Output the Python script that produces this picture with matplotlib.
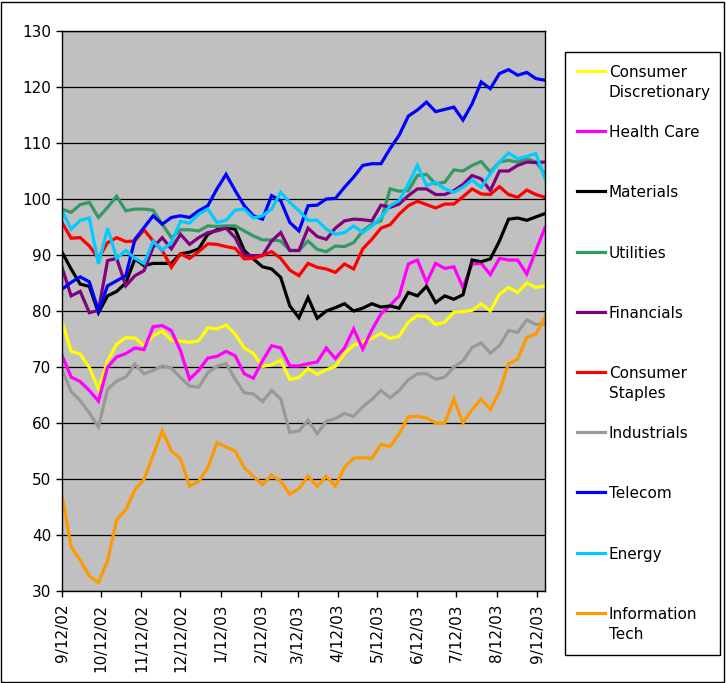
import numpy as np
import pandas as pd
import matplotlib
matplotlib.use('Agg')
import matplotlib.pyplot as plt
import matplotlib.dates as mdates
from matplotlib.ticker import FuncFormatter
from matplotlib.patches import Rectangle
from matplotlib.lines import Line2D

plt.rcParams['font.family'] = ['DejaVu Sans']

# weekly index values, 9/12/02 .. 9/18/03
dates = pd.date_range('2002-09-12', periods=54, freq='7D')

cons_disc = [78.1, 72.8, 72.3, 69.9, 66.0, 71.1, 74.1, 75.2, 75.2, 73.8, 75.6, 76.4, 74.8, 74.6, 74.4, 74.7, 77.0, 76.8,
             77.5, 75.9, 73.4, 72.4, 70.1, 70.4, 71.2, 67.8, 68.1, 69.7, 68.7, 69.5, 70.1, 72.4, 73.9, 74.5, 75.1, 76.0,
             75.1, 75.5, 78.0, 79.2, 79.0, 77.6, 78.0, 79.8, 79.9, 80.1, 81.3, 80.0, 83.0, 84.2, 83.3, 85.0, 84.2, 84.5]
health = [72.1, 68.2, 67.4, 65.8, 63.9, 70.0, 71.8, 72.4, 73.4, 73.1, 77.2, 77.4, 76.5, 72.9, 67.8, 69.4, 71.6, 71.9,
          72.8, 72.0, 68.8, 68.0, 71.1, 73.8, 73.4, 70.2, 70.2, 70.6, 70.9, 73.4, 71.5, 73.4, 76.8, 73.2, 76.6, 79.5,
          81.0, 82.7, 88.4, 89.1, 85.1, 88.5, 87.6, 87.9, 84.2, 88.4, 88.5, 86.5, 89.4, 89.1, 89.1, 86.6, 90.8, 94.9]
materials = [90.5, 87.5, 84.8, 84.4, 79.7, 82.7, 83.5, 85.0, 89.3, 88.1, 88.5, 88.5, 88.5, 90.2, 90.5, 91.1, 93.7, 94.5,
             94.9, 94.6, 90.8, 89.3, 87.9, 87.5, 86.0, 80.9, 78.8, 82.4, 78.7, 80.0, 80.6, 81.3, 80.0, 80.5, 81.3, 80.7,
             80.9, 80.5, 83.3, 82.7, 84.4, 81.5, 82.7, 82.1, 82.9, 89.1, 88.8, 89.3, 92.5, 96.4, 96.6, 96.2, 96.8, 97.4]
utilities = [98.2, 97.6, 99.0, 99.4, 96.7, 98.5, 100.5, 97.9, 98.2, 98.2, 98.0, 95.5, 93.1, 94.5, 94.5, 94.3, 95.2, 95.1,
             95.2, 95.2, 94.3, 93.4, 92.7, 92.7, 92.5, 90.8, 90.8, 92.5, 91.0, 90.6, 91.6, 91.5, 92.2, 94.3, 95.5, 96.1,
             101.8, 101.4, 101.5, 104.2, 104.4, 102.7, 103.0, 105.2, 105.0, 106.0, 106.7, 104.8, 106.6, 106.9, 106.6,
             107.2, 106.6, 104.5]
financials = [87.8, 82.7, 83.5, 79.7, 80.1, 89.0, 89.4, 84.5, 86.3, 87.2, 91.4, 93.1, 91.1, 93.7, 91.9, 93.1, 94.0, 94.3,
              94.8, 93.1, 89.9, 89.9, 89.9, 92.5, 94.0, 90.8, 90.8, 94.8, 93.3, 92.8, 94.8, 96.1, 96.4, 96.3, 96.1, 98.9,
              98.5, 99.1, 100.6, 101.8, 101.8, 100.8, 100.8, 101.5, 102.6, 104.2, 103.6, 101.5, 105.0, 105.0, 106.0,
              106.6, 106.5, 106.6]
cons_staples = [95.8, 93.0, 93.1, 91.6, 89.4, 92.2, 93.1, 92.4, 92.5, 94.5, 92.5, 90.8, 87.8, 90.2, 89.4, 90.6, 92.0,
                91.9, 91.5, 91.2, 89.3, 89.4, 89.9, 90.6, 89.4, 87.3, 86.3, 88.5, 87.8, 87.5, 86.9, 88.4, 87.5, 91.1,
                92.8, 94.8, 95.4, 97.3, 98.8, 99.6, 99.0, 98.4, 99.1, 99.1, 100.4, 101.8, 100.9, 100.8, 102.2, 100.8,
                100.3, 101.6, 100.8, 100.3]
industrials = [69.6, 65.6, 64.0, 61.8, 59.3, 66.0, 67.5, 68.2, 70.5, 68.8, 69.4, 70.2, 69.8, 68.1, 66.6, 66.4, 69.0,
               70.1, 70.6, 67.8, 65.4, 65.2, 63.8, 65.8, 64.3, 58.3, 58.6, 60.5, 58.1, 60.3, 60.8, 61.7, 61.2, 62.9,
               64.2, 65.8, 64.5, 65.8, 67.7, 68.8, 68.8, 67.8, 68.2, 70.0, 71.1, 73.5, 74.3, 72.5, 73.8, 76.5, 76.2,
               78.4, 77.6, 77.7]
telecom = [83.9, 85.1, 86.1, 85.2, 80.0, 84.5, 85.4, 86.3, 92.8, 94.9, 97.0, 95.5, 96.7, 97.0, 96.7, 97.9, 98.8, 101.8,
           104.4, 101.5, 98.8, 97.0, 96.4, 100.6, 99.7, 95.8, 94.3, 98.8, 98.9, 100.0, 100.1, 102.1, 103.9, 106.0, 106.3,
           106.3, 109.0, 111.4, 114.8, 115.9, 117.3, 115.6, 116.0, 116.4, 114.1, 117.0, 120.9, 119.7, 122.4, 123.1,
           122.1, 122.6, 121.5, 121.2]
energy = [97.9, 94.6, 96.2, 96.6, 88.4, 94.8, 89.4, 90.8, 89.4, 88.5, 92.4, 90.9, 92.2, 96.0, 95.7, 97.3, 98.2, 95.8,
          96.2, 98.0, 98.2, 96.6, 97.0, 98.2, 101.2, 99.4, 97.9, 96.2, 96.2, 94.6, 93.7, 94.0, 95.2, 94.0, 95.2, 96.7,
          98.8, 99.7, 102.7, 106.0, 102.4, 103.0, 101.8, 101.2, 102.1, 103.4, 102.1, 104.5, 106.6, 108.2, 107.2, 107.6,
          108.1, 103.6]
info_tech = [47.1, 37.9, 35.5, 32.7, 31.5, 35.4, 42.7, 44.5, 48.1, 49.9, 54.3, 58.6, 55.0, 53.6, 48.7, 49.6, 52.0, 56.5,
             55.7, 55.0, 52.0, 50.5, 49.0, 50.7, 49.6, 47.3, 48.3, 50.5, 48.7, 50.5, 48.7, 52.1, 53.7, 53.8, 53.7, 56.2,
             55.8, 58.1, 61.1, 61.2, 60.9, 60.0, 60.0, 64.3, 60.0, 62.4, 64.3, 62.4, 65.6, 70.6, 71.4, 75.3, 75.9, 78.9]

labels = ['Consumer\nDiscretionary', 'Health Care', 'Materials', 'Utilities', 'Financials',
          'Consumer\nStaples', 'Industrials', 'Telecom', 'Energy', 'Information\nTech']
series = [cons_disc, health, materials, utilities, financials, cons_staples, industrials, telecom, energy, info_tech]
colors = ['#FFFF00', '#FF00FF', '#000000', '#339966', '#800080',
          '#FF0000', '#999999', '#0000FF', '#00CCFF', '#FF9900']

W, H = 726, 683
fig = plt.figure(figsize=(W / 100, H / 100), dpi=100)
ax = fig.add_axes([62 / W, 1 - 591 / H, (545 - 62) / W, (591 - 31) / H])
ax.set_facecolor('#C0C0C0')

for vals, col in zip(series, colors):
    ax.plot(dates, vals, color=col, lw=2.3, solid_joinstyle='miter')

ax.set_ylim(30, 130)
ax.set_yticks(range(30, 131, 10))
ax.set_xlim(dates[0], dates[-1])
ax.yaxis.grid(True, color='#000000', lw=0.9)
ax.set_axisbelow(True)

ax.xaxis.set_major_locator(mdates.MonthLocator(bymonthday=12))
ax.xaxis.set_major_formatter(FuncFormatter(
    lambda v, _: (lambda d: f"{d.month}/{d.day}/{d:%y}")(mdates.num2date(v))))
ax.tick_params(axis='x', rotation=90, labelsize=11, length=4.3, width=1, pad=5)
ax.tick_params(axis='y', labelsize=11, length=4.3, width=1, pad=3.6)
for s in ax.spines.values():
    s.set_color('#000000')
    s.set_linewidth(1)

# outer frame
fig.patches.append(Rectangle((1 / W, 1 / H), (W - 3) / W, (H - 3) / H, transform=fig.transFigure,
                             fill=False, ec='#000000', lw=1))

# legend box drawn by hand to match layout
fig.patches.append(Rectangle((565 / W, 1 - 655 / H), (720 - 565) / W, (655 - 52) / H,
                             transform=fig.transFigure, fill=False, ec='#000000', lw=1))
for k, (lab, col) in enumerate(zip(labels, colors)):
    yl = 71 + 60.2 * k
    fig.add_artist(Line2D([577 / W, 605 / W], [1 - yl / H, 1 - yl / H], color=col, lw=2.3,
                          transform=fig.transFigure))
    for j, part in enumerate(lab.split('\n')):
        fig.text(609 / W, 1 - (yl + 1.5 + 20 * j) / H, part, fontsize=11, va='center', ha='left')

fig.savefig('out.png', dpi=100, facecolor='white')
